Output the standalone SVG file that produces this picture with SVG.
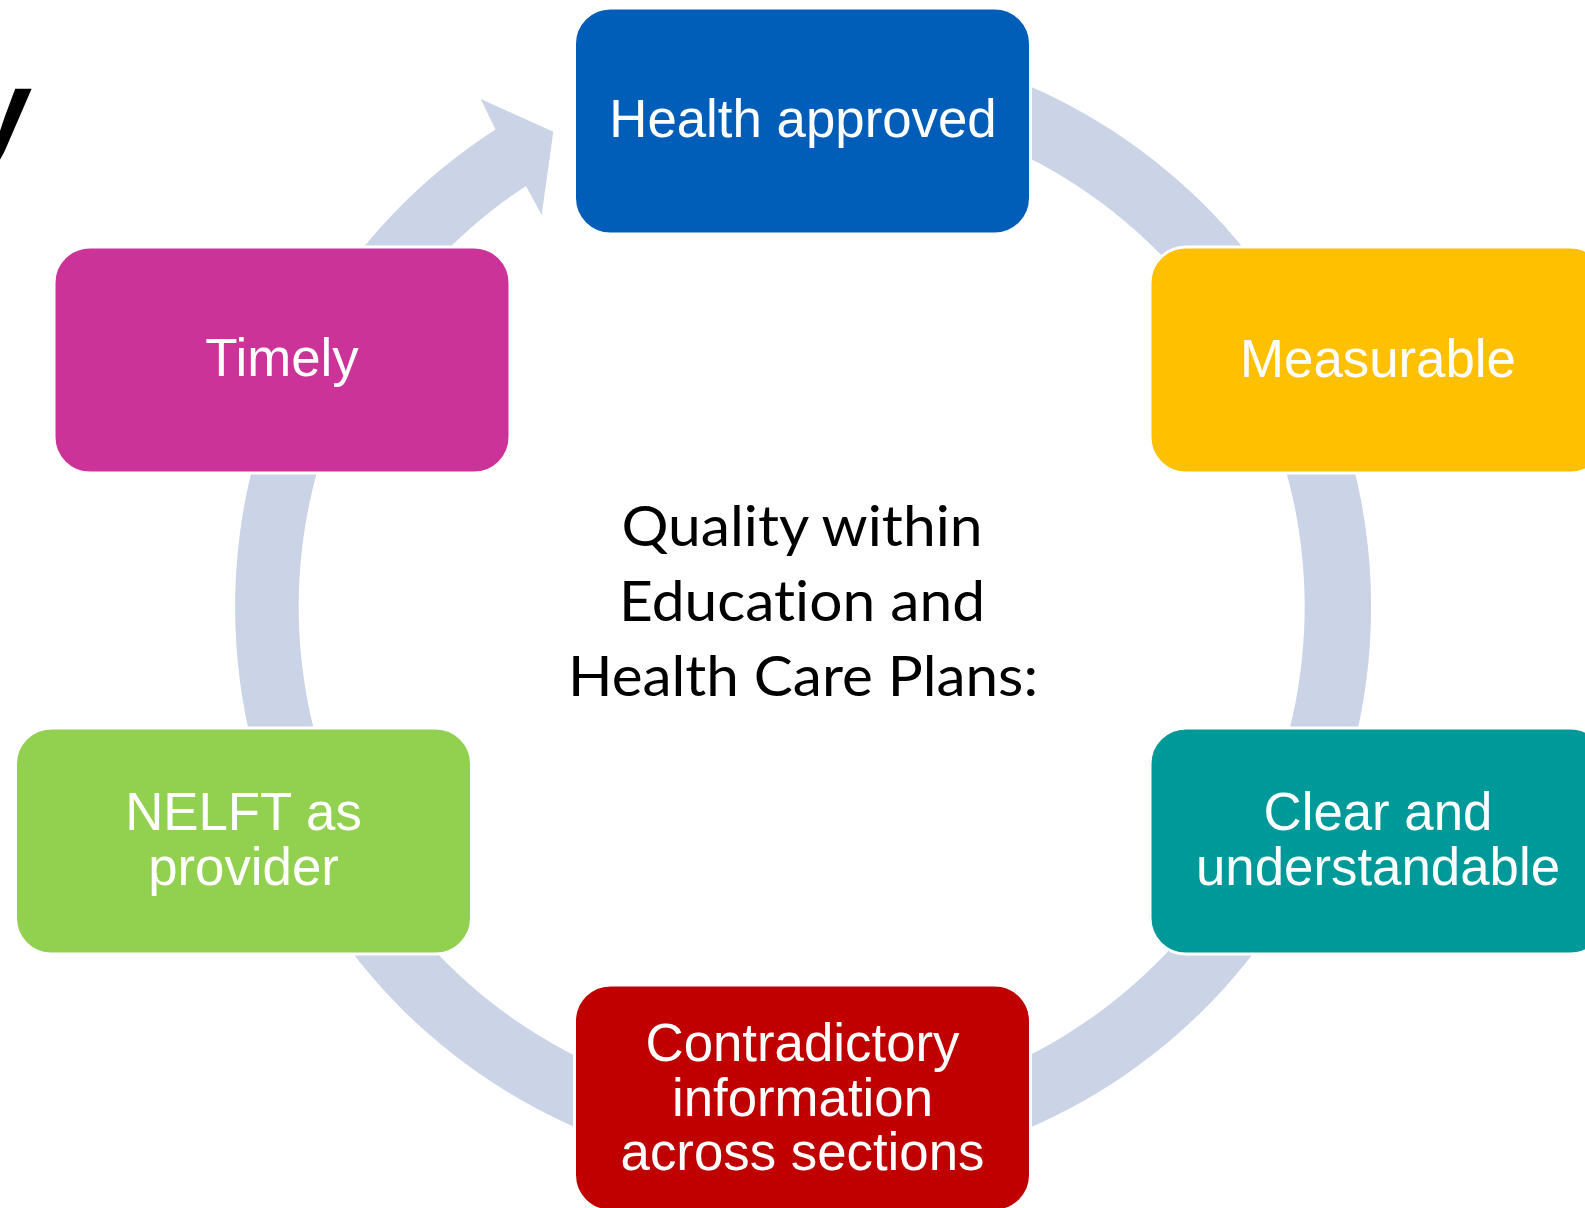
<svg xmlns="http://www.w3.org/2000/svg" width="1585" height="1208" viewBox="0 0 1585 1208">
  <style>
    .box { stroke: #FFFFFF; stroke-width: 3; }
    .lbl { font-family: "Liberation Sans", Arial, sans-serif; font-size: 52.8px; fill: #FFFFFF; text-anchor: middle; }
    .center { font-family: Lato, "Open Sans", sans-serif; font-size: 56px; fill: #000000; text-anchor: middle; font-variant-ligatures: none; }
    .title { font-family: "Liberation Sans", Arial, sans-serif; font-size: 112px; font-weight: bold; font-style: italic; fill: #000000; }
  </style>
  <rect x="0" y="0" width="1585" height="1208" fill="#FFFFFF"/>
  <text class="title" transform="translate(-27,148) skewX(8)" x="0" y="0">y</text>
  <g id="connectors">
    <path d="M 901.6 47.6 A 568 568 0 1 1 495.5 129.5 L 480.7 99 L 553.3 131.7 L 541.7 215 L 526 186 A 503 503 0 1 0 890.3 111.6 Z" fill="#CBD3E6"/>
  </g>
  <g id="node-health-approved">
    <rect class="box" x="574.5" y="8" width="456" height="226" rx="36" ry="36" fill="#005EB8"/>
    <text class="lbl" x="803" y="136.7">Health approved</text>
  </g>
  <g id="node-measurable">
    <rect class="box" x="1150" y="247" width="456" height="226" rx="36" ry="36" fill="#FFC000"/>
    <text class="lbl" x="1378" y="376.7">Measurable</text>
  </g>
  <g id="node-clear">
    <rect class="box" x="1150" y="728" width="456" height="226" rx="36" ry="36" fill="#009999"/>
    <text class="lbl" x="1378" y="830">Clear and</text>
    <text class="lbl" x="1378" y="885">understandable</text>
  </g>
  <g id="node-contradictory">
    <rect class="box" x="574.5" y="985" width="456" height="226" rx="36" ry="36" fill="#C00000"/>
    <text class="lbl" x="802.5" y="1061">Contradictory</text>
    <text class="lbl" x="802.5" y="1115.5">information</text>
    <text class="lbl" x="802.5" y="1170">across sections</text>
  </g>
  <g id="node-nelft">
    <rect class="box" x="15.5" y="728" width="456" height="226" rx="36" ry="36" fill="#92D050"/>
    <text class="lbl" x="243.5" y="830">NELFT as</text>
    <text class="lbl" x="243.5" y="885">provider</text>
  </g>
  <g id="node-timely">
    <rect class="box" x="54" y="247" width="456" height="226" rx="36" ry="36" fill="#CC3399"/>
    <text class="lbl" x="282" y="376">Timely</text>
  </g>
  <g id="center-label">
    <text class="center" x="802" y="546" textLength="361" lengthAdjust="spacingAndGlyphs">Quality within</text>
    <text class="center" x="802" y="621" textLength="366" lengthAdjust="spacingAndGlyphs">Education and</text>
    <text class="center" x="803" y="696" textLength="470" lengthAdjust="spacingAndGlyphs">Health Care Plans:</text>
  </g>
</svg>
